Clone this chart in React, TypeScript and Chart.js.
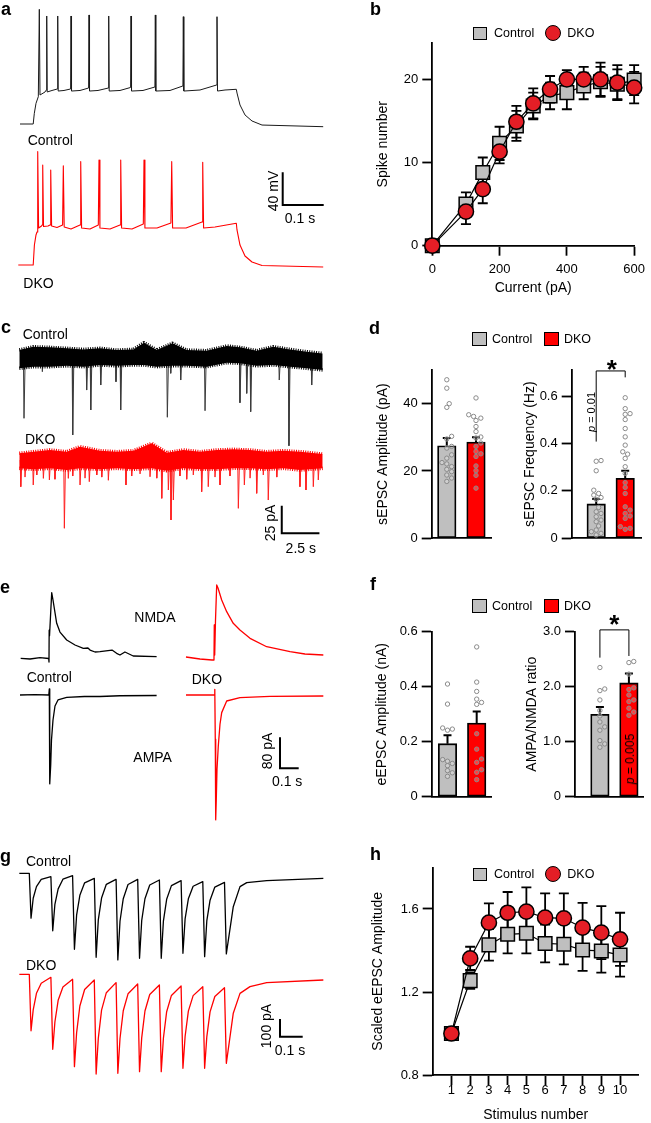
import React, { useEffect, useRef } from "react";
import { Chart, registerables } from "chart.js";

Chart.register(...registerables);

const FONT = '"Liberation Sans", Arial, Helvetica, sans-serif';
Chart.defaults.font.family = FONT;
Chart.defaults.color = "#000";

const RED = "#ff0000";
const MARK_RED = "#e41e26";
const GRAY = "#bfbfbf";
const DOT = "#8a8a8a";

// ---------------- Panel a (current-clamp traces, ms / mV) ----------------
const aControlT = [0, 33, 35.8, 40, 45.8, 48.3, 50, 62.5, 65.8, 66.8, 68, 80, 93.3, 94.3, 95.5, 110, 126.5, 127.5, 128.8, 150, 171.5, 172.5, 173.8, 195, 220.8, 221.8, 223, 250, 276.5, 277.5, 278.8, 307.5, 337.3, 338.3, 339.5, 375, 407.3, 408.3, 409.5, 450, 491.5, 492.5, 493.8, 512.5, 540.8, 542.5, 550, 562.5, 580, 605, 758];
const aControlV = [-70, -70, -56.5, -43.9, -35.5, 74.7, -33.4, -29.6, -27.1, 66.3, -29.6, -27.7, -25.8, 66.3, -28.4, -27.7, -25.8, 66.3, -28.4, -27.7, -24.6, 67.6, -28.4, -27.7, -24.6, 66.3, -28.4, -27.7, -23.9, 66.3, -28.4, -27.7, -23.3, 67.6, -28.4, -27.7, -22, 65.4, -28.4, -27.1, -20.8, 65.4, -28.4, -27.1, -26.2, -30.9, -46, -58.6, -66.2, -71.3, -73.4];
const aDkoT = [-4.3, 33, 36, 40, 42.5, 44.3, 46.5, 53.8, 55.3, 56.8, 58.8, 70, 75, 76.8, 79, 92.5, 106.5, 108.3, 110.5, 127.5, 150, 151.8, 154, 175, 195.8, 197.5, 199.8, 225, 250, 251.8, 254, 280, 308.3, 310, 312.3, 342.5, 377.3, 379.3, 381.5, 415, 455, 456.8, 459, 487.5, 540.8, 542.5, 550, 562.5, 580, 605, 758];
const aDkoV = [-70, -70, -44.8, -32.1, -28.4, 73, -23.3, -20.8, -19.5, 56.2, -21.4, -20.8, -19.5, 49.9, -20.8, -22.7, -19.5, 55.3, -22, -24.6, -19.5, 60.4, -23.3, -24.6, -19.5, 62.5, -23.3, -24.6, -19.5, 62.5, -23.3, -24.6, -18.3, 62.5, -23.3, -23.3, -17, 60.4, -23.3, -23.3, -15.7, 59.6, -23.3, -22, -17.4, -25.8, -44.8, -58.6, -66.2, -70.6, -72.5];

// ---------------- Panel b ----------------
const bCurrent = [0, 100, 150, 200, 250, 300, 350, 400, 450, 500, 550, 600];
const bControl = [0, 5.0, 8.8, 12.3, 14.4, 16.8, 18.0, 18.4, 19.2, 19.7, 19.4, 19.9];
const bControlSem = [0, 1.4, 1.8, 2.0, 1.8, 1.6, 1.6, 2.0, 1.6, 1.8, 1.8, 1.8];
const bDko = [0, 4.1, 6.8, 11.3, 14.9, 17.1, 18.8, 20.0, 20.0, 20.0, 19.6, 19.0];
const bDkoSem = [0, 1.5, 1.7, 1.4, 1.9, 1.8, 1.6, 1.1, 1.5, 2.0, 2.1, 1.9];
const bXTicks = [0, 200, 400, 600];
const bXLabels = ["0", "200", "400", "600"];
const bYTicks = [0, 10, 20];
const bYLabels = ["0", "10", "20"];

// ---------------- Panel c (sEPSC traces, s / pA) ----------------
const cCtrlBandT = [0, 0.95, 2.09, 3.23, 4.36, 5.5, 6.64, 7.77, 8.5, 9.37, 10.43, 11.41, 12.77, 14.14, 15.04, 16.18, 17.31, 18.45, 19.59, 20.68];
const cCtrlBandHi = [7, 10.1, 9.5, 8.6, 7.6, 8.6, 7, 7.6, 13.9, 7, 13.3, 7, 6.4, 10.8, 9.5, 6.4, 10.1, 7.6, 5.4, 3.8];
const cCtrlBandLo = [-10.1, -8.6, -8.6, -7.8, -8.6, -7, -7.8, -7, -7, -8.6, -7.8, -7.8, -8.6, -4.8, -5.4, -7.8, -7, -8.6, -10.1, -11.7];
const cCtrlEventT = [0.32, 1.57, 3.64, 4.59, 4.87, 5.55, 6.59, 6.91, 10.09, 10.32, 11.0, 12.66, 15.04, 15.5, 15.77, 17.72, 18.38, 19.93];
const cCtrlEventA = [-57, -13.3, -72.6, -30.5, -49.2, -25.8, -22.7, -49.2, -56, -14.8, -21.1, -49.9, -42.4, -33.6, -50.8, -21.1, -82.7, -25.8];
const cDkoBandT = [0, 0.95, 2.09, 3.23, 4.14, 5.5, 6.64, 7.77, 9.03, 10.05, 11.18, 12.32, 13.46, 14.59, 15.73, 16.86, 18.0, 19.13, 20.68];
const cDkoBandHi = [6.3, 7.8, 9.4, 7.8, 12.5, 8.7, 7.8, 8.7, 15.6, 6.9, 9.4, 7.8, 9.4, 10, 9.4, 7.8, 8.7, 7.8, 5.6];
const cDkoBandLo = [-7.8, -8.7, -7.8, -9.4, -7.8, -8.7, -7.8, -8.7, -7.8, -10, -7.8, -8.7, -8.7, -7.8, -7.8, -8.7, -7.8, -9.4, -7.8];
const cDkoEventT = [0.1, 0.39, 0.95, 1.19, 1.64, 2.05, 2.43, 3.07, 3.34, 3.64, 4.14, 4.48, 4.77, 5.28, 5.62, 6.07, 7.27, 7.66, 8.23, 8.91, 9.37, 9.71, 10.16, 10.34, 10.5, 10.95, 11.41, 11.86, 12.43, 12.88, 13.34, 13.68, 14.36, 14.93, 15.34, 15.73, 16.18, 16.63, 16.97, 17.55, 19.13, 19.54, 20.04, 20.38];
const cDkoEventA = [-25, -16, -23.4, -14, -17.2, -18.7, -18, -64, -17.2, -15, -23.4, -17, -20.3, -14, -16, -19, -23.4, -15, -13, -15.7, -17, -35.9, -28.1, -56.2, -37.5, -15, -18, -14, -29.7, -25, -16, -23.4, -15, -45.3, -23.4, -17, -31.2, -14, -37.5, -16, -25, -28.1, -25, -18.7];

// ---------------- Panel d ----------------
const dAmpMean = [27.5, 28.6];
const dAmpSem = [2.3, 1.4];
const dAmpCtrlDots = [47.1, 44.6, 40.0, 38.9, 30.3, 29.5, 27.3, 26.8, 24.8, 23.8, 22.5, 22.1, 21.3, 20.5, 19.8, 18.8, 17.9, 16.9];
const dAmpDkoDots = [41.7, 36.7, 36.2, 35.7, 35.0, 33.2, 31.7, 30.1, 29.8, 28.3, 27.3, 25.8, 25.1, 24.3, 21.5, 20.1, 18.7, 14.9];
const dAmpTicks = [0, 20, 40];
const dAmpLabels = ["0", "20", "40"];
const dFreqMean = [0.145, 0.253];
const dFreqSem = [0.021, 0.032];
const dFreqCtrlDots = [0.328, 0.325, 0.285, 0.203, 0.189, 0.182, 0.172, 0.164, 0.13, 0.112, 0.105, 0.091, 0.077, 0.07, 0.052, 0.035, 0.028, 0.021, 0.014];
const dFreqDkoDots = [0.593, 0.547, 0.526, 0.523, 0.501, 0.463, 0.428, 0.393, 0.365, 0.355, 0.337, 0.302, 0.274, 0.235, 0.215, 0.189, 0.133, 0.119, 0.105, 0.094, 0.084, 0.049, 0.042, 0.038];
const dFreqTicks = [0, 0.2, 0.4, 0.6];
const dFreqLabels = ["0", "0.2", "0.4", "0.6"];
const dFreqBracket = [0.408, 0.706, 0.679];

// ---------------- Panel e (evoked traces, ms / pA) ----------------
const eCtrlNmdaT = [-160, -107, -51, -1.7, 0, 1, 3, 15.3, 22.6, 43.5, 62, 100, 147, 194, 220, 232, 260, 288, 356, 382, 401, 429, 476, 608];
const eCtrlNmdaI = [0, -1.9, 2, -0.5, -10, 75, 60, 175, 155.5, 93.3, 70, 48.8, 35.5, 26.7, 27.5, 22, 16.8, 17.6, 22, 13.3, 8.8, 16.8, 6.1, 4.3];
const eCtrlAmpaT = [-164, -80, -1, 1.7, 2.8, 5.6, 9.6, 14.1, 22.6, 33.9, 50.8, 100, 200, 288, 400, 608];
const eCtrlAmpaI = [0, 1, 0, 16, -13, -237, -187, -120, -66.7, -29.3, -13.3, -6.1, -4, -4, -2, -1.3];
const eDkoNmdaT = [-160, -81, -13, -1.7, 0, 2.3, 6.8, 13.6, 20.9, 41.8, 70, 107, 145, 202, 296, 428, 512, 616];
const eDkoNmdaI = [3.5, -1.9, -4.5, -4.5, 88.8, 8.8, 102, 195.5, 187.5, 155.5, 124.3, 93.3, 75.5, 53.3, 30.9, 17.6, 11.5, 8.8];
const eDkoAmpaT = [-160, 1.1, 2.8, 5.6, 7.9, 11.3, 15.3, 22.6, 32.2, 41.8, 70, 145, 315, 616];
const eDkoAmpaI = [0, 0, 15.2, -118, -333, -278, -198, -136, -78, -47, -16, -6.9, -3.5, -2.7];

// ---------------- Panel f ----------------
const fAmpMean = [0.193, 0.268];
const fAmpSem = [0.031, 0.042];
const fAmpCtrlDots = [0.41, 0.337, 0.25, 0.246, 0.242, 0.135, 0.129, 0.121, 0.113, 0.095, 0.087, 0.074];
const fAmpDkoDots = [0.545, 0.417, 0.383, 0.355, 0.343, 0.336, 0.229, 0.173, 0.137, 0.125, 0.098, 0.089, 0.062];
const fAmpTicks = [0, 0.2, 0.4, 0.6];
const fAmpLabels = ["0", "0.2", "0.4", "0.6"];
const fRatioMean = [1.5, 2.07];
const fRatioSem = [0.13, 0.17];
const fRatioCtrlDots = [2.35, 1.96, 1.93, 1.76, 1.57, 1.47, 1.36, 1.27, 1.21, 1.02, 0.96, 0.9];
const fRatioDkoDots = [2.46, 2.44, 2.23, 1.98, 1.95, 1.85, 1.76, 1.73, 1.61, 1.54, 1.48];
const fRatioTicks = [0, 1, 2, 3];
const fRatioLabels = ["0", "1.0", "2.0", "3.0"];
const fRatioBracket = [2.53, 3.035, 2.56];

// ---------------- Panel g (train traces, ms / pA) ----------------
const gStimT = [0, 100, 200, 300, 400, 500, 600, 700, 800, 900];
const gTroughDelay = 8;
const gRecoveryDt = [18, 33, 55, 99.5];
const gCtrlTrough = [-269, -344, -455, -503, -519, -509, -509, -479, -499, -483];
const gCtrlPre = [0, -20, -14, -30, -36, -36, -40, -44, -50, -54];
const gCtrlRecovery = [0.52, 0.24, 0.064, 0];
const gCtrlTailT = [940, 971, 1002, 1094, 1355];
const gCtrlTailI = [-200, -80, -56, -44, -30];
const gDkoTrough = [-338, -449, -553, -597, -593, -583, -583, -563, -563, -533];
const gDkoPre = [0, -18, -30, -34, -50, -58, -64, -70, -74, -80];
const gDkoRecovery = [0.61, 0.3, 0.11, 0];
const gDkoTailT = [940, 971, 1017, 1094, 1355];
const gDkoTailI = [-233, -114, -74, -50, -34];

// ---------------- Panel h ----------------
const hStim = [1, 2, 3, 4, 5, 6, 7, 8, 9, 10];
const hControl = [1.0, 1.255, 1.427, 1.478, 1.483, 1.434, 1.43, 1.402, 1.398, 1.378];
const hControlSem = [0, 0.04, 0.076, 0.092, 0.097, 0.091, 0.097, 0.1, 0.105, 0.104];
const hDko = [1.0, 1.362, 1.534, 1.582, 1.587, 1.558, 1.555, 1.51, 1.486, 1.454];
const hDkoSem = [0, 0.056, 0.093, 0.1, 0.117, 0.117, 0.12, 0.12, 0.128, 0.128];
const hYTicks = [0.8, 1.2, 1.6];
const hYLabels = ["0.8", "1.2", "1.6"];
const hXLabels = hStim.map(String);

// ---------------- helpers ----------------
type Rect = { x: number; y: number; w: number; h: number };
type Area = { l: number; t: number; r: number; b: number };

const pts = (xs: number[], ys: number[]) => xs.map((x, i) => ({ x, y: ys[i] }));

function events(ts: number[], amps: number[]) {
  const out: any[] = [];
  ts.forEach((t, i) => {
    out.push({ x: t - 0.04, y: 0 }, { x: t, y: amps[i] }, { x: t + 0.08, y: 0 }, { x: t + 0.08, y: null });
  });
  return out;
}

function train(trough: number[], pre: number[], rec: number[], tailT: number[], tailI: number[]) {
  const out: any[] = [{ x: -46, y: 0 }];
  gStimT.forEach((s, i) => {
    out.push({ x: s, y: pre[i] });
    out.push({ x: s + gTroughDelay, y: trough[i] });
    if (i < gStimT.length - 1) {
      const next = pre[i + 1];
      gRecoveryDt.forEach((dt, k) => out.push({ x: s + dt, y: next + (trough[i] - next) * rec[k] }));
    } else {
      tailT.forEach((t, k) => out.push({ x: t, y: tailI[k] }));
    }
  });
  return out;
}

function swarm(values: number[], center: number, pxX: number, pxY: number, gap: number) {
  const order = values.map((_, i) => i).sort((a, b) => values[a] - values[b]);
  const placed: { x: number; y: number }[] = [];
  const out: any[] = new Array(values.length);
  for (const i of order) {
    const py = values[i] * pxY;
    let k = 0;
    let px = 0;
    for (;;) {
      px = k === 0 ? 0 : (k % 2 ? 1 : -1) * Math.ceil(k / 2) * gap * 0.55;
      const ok = placed.every((p) => Math.hypot(p.x - px, p.y - py) >= gap);
      if (ok || k > 12) break;
      k++;
    }
    placed.push({ x: px, y: py });
    out[i] = { x: center + px / pxX, y: values[i] };
  }
  return out;
}

const base = (extra: any) => ({
  responsive: false,
  animation: false,
  devicePixelRatio: 1,
  events: [],
  plugins: { legend: { display: false }, tooltip: { enabled: false } },
  ...extra,
});

const hidden = (min: number, max: number) => ({ type: "linear", display: false, min, max });

function scaleBar(xId: string, yId: string, x0: number, dx: number, y0: number, dy: number) {
  return {
    id: "scaleBar",
    afterDatasetsDraw(chart: any) {
      const xs = chart.scales[xId];
      const ys = chart.scales[yId];
      const ctx = chart.ctx;
      const px0 = xs.getPixelForValue(x0);
      const px1 = xs.getPixelForValue(x0 + dx);
      const py0 = ys.getPixelForValue(y0);
      const py1 = ys.getPixelForValue(y0 + dy);
      ctx.save();
      ctx.strokeStyle = "#000";
      ctx.lineWidth = 2;
      ctx.lineCap = "square";
      ctx.beginPath();
      ctx.moveTo(px0, py1);
      ctx.lineTo(px0, py0);
      ctx.lineTo(px1, py0);
      ctx.stroke();
      ctx.restore();
    },
  };
}

function drawErrors(chart: any, both: boolean, capHalf: number, width: number) {
  const ctx = chart.ctx;
  chart.data.datasets.forEach((ds: any, di: number) => {
    if (!ds.errors) return;
    const meta = chart.getDatasetMeta(di);
    const xs = chart.scales[meta.xAxisID];
    const ys = chart.scales[meta.yAxisID];
    ctx.save();
    ctx.strokeStyle = "#000";
    ctx.lineWidth = width;
    ds.data.forEach((p: any, i: number) => {
      const e = ds.errors[i];
      if (!e) return;
      const px = xs.getPixelForValue(p.x);
      const top = ys.getPixelForValue(p.y + e);
      const bot = ys.getPixelForValue(both ? p.y - e : p.y);
      ctx.beginPath();
      ctx.moveTo(px, bot);
      ctx.lineTo(px, top);
      ctx.moveTo(px - capHalf, top);
      ctx.lineTo(px + capHalf, top);
      if (both) {
        ctx.moveTo(px - capHalf, bot);
        ctx.lineTo(px + capHalf, bot);
      }
      ctx.stroke();
    });
    ctx.restore();
  });
}

function bracketPlugin(ys3: number[]) {
  return {
    id: "bracket",
    afterDatasetsDraw(chart: any) {
      const xs = chart.scales.x;
      const ys = chart.scales.y;
      const ctx = chart.ctx;
      ctx.save();
      ctx.strokeStyle = "#000";
      ctx.lineWidth = 1;
      ctx.beginPath();
      ctx.moveTo(xs.getPixelForValue(0), ys.getPixelForValue(ys3[0]));
      ctx.lineTo(xs.getPixelForValue(0), ys.getPixelForValue(ys3[1]));
      ctx.lineTo(xs.getPixelForValue(1), ys.getPixelForValue(ys3[1]));
      ctx.lineTo(xs.getPixelForValue(1), ys.getPixelForValue(ys3[2]));
      ctx.stroke();
      ctx.restore();
    },
  };
}

const gridOpts = { display: true, drawOnChartArea: false, drawTicks: true, tickLength: 10, tickWidth: 1.8, tickColor: "#000" };
const borderOpts = { display: true, color: "#000", width: 1.8 };

function yAxis(min: number, max: number, ticks: number[], labels: string[], title: string, width: number, titleCenter: number) {
  return {
    type: "linear",
    position: "left",
    min,
    max,
    afterBuildTicks: (s: any) => {
      s.ticks = ticks.map((v) => ({ value: v }));
    },
    afterFit: (s: any) => {
      s.width = width;
    },
    ticks: { callback: (_v: any, i: number) => labels[i], font: { size: 13 }, padding: 4, autoSkip: false, maxRotation: 0, color: "#000" },
    grid: gridOpts,
    border: borderOpts,
    title: { display: true, text: title, color: "#000", font: { size: 14 }, padding: { top: titleCenter - 8.4, bottom: 0 } },
  };
}

function layoutFor(rect: Rect, area: Area) {
  return { padding: { left: 0, top: area.t - rect.y, right: rect.x + rect.w - area.r, bottom: 0 } };
}

function xyConfig(o: any) {
  const rect: Rect = o.rect;
  const area: Area = o.area;
  return () => ({
    type: "line",
    data: {
      datasets: [
        {
          label: "DKO",
          data: pts(o.x, o.dko),
          errors: o.dkoSem,
          order: 0,
          borderColor: "#000",
          borderWidth: 1.2,
          pointStyle: "circle",
          pointRadius: 7.6,
          pointBackgroundColor: MARK_RED,
          pointBorderColor: "#000",
          pointBorderWidth: 1.5,
          clip: false,
        },
        {
          label: "Control",
          data: pts(o.x, o.ctrl),
          errors: o.ctrlSem,
          order: 1,
          borderColor: "#000",
          borderWidth: 1.2,
          pointStyle: "rect",
          pointRadius: 9.6,
          pointBackgroundColor: GRAY,
          pointBorderColor: "#000",
          pointBorderWidth: 1.5,
          clip: false,
        },
      ],
    },
    options: base({
      layout: layoutFor(rect, area),
      elements: { line: { tension: 0 } },
      scales: {
        x: {
          type: "linear",
          min: o.xMin,
          max: o.xMax,
          afterBuildTicks: (s: any) => {
            s.ticks = o.xTicks.map((v: number) => ({ value: v }));
          },
          afterFit: (s: any) => {
            s.height = rect.y + rect.h - area.b;
          },
          ticks: { callback: (_v: any, i: number) => o.xLabels[i], font: { size: 13 }, padding: o.xTickPad, autoSkip: false, maxRotation: 0, color: "#000" },
          grid: gridOpts,
          border: borderOpts,
          title: { display: true, text: o.xTitle, color: "#000", font: { size: 14 }, padding: { top: 0, bottom: o.xTitlePad } },
        },
        y: yAxis(o.yMin, o.yMax, o.yTicks, o.yLabels, o.yTitle, area.l - rect.x, o.yTitleCenter - rect.x),
      },
    }),
    plugins: [{ id: "errs", beforeDatasetsDraw: (chart: any) => drawErrors(chart, true, 5, 1.8) }],
  });
}

function barConfig(o: any) {
  const rect: Rect = o.rect;
  const area: Area = o.area;
  const pxX = (area.r - area.l) / (o.xMax - o.xMin);
  const pxY = (area.b - area.t) / (o.yMax - o.yMin);
  const dots = swarm(o.ctrlDots, 0, pxX, pxY, 4.4).concat(swarm(o.dkoDots, 1, pxX, pxY, 4.4));
  const plugins: any[] = [
    {
      id: "errs",
      afterDatasetDraw: (chart: any, args: any) => {
        if (chart.data.datasets[args.index].errors) drawErrors(chart, false, 4, 2);
      },
    },
  ];
  if (o.bracket) plugins.push(bracketPlugin(o.bracket));
  return () => ({
    type: "bar",
    data: {
      datasets: [
        {
          type: "bar",
          data: pts([0, 1], o.means),
          errors: o.sems,
          order: 1,
          backgroundColor: [GRAY, RED],
          borderColor: "#000",
          borderWidth: 1.8,
          borderSkipped: false,
          barThickness: 18.5,
        },
        {
          type: "scatter",
          data: dots,
          order: 0,
          pointRadius: 2.2,
          pointBorderWidth: 1,
          pointBorderColor: DOT,
          pointBackgroundColor: "rgba(255,255,255,0.25)",
          clip: false,
        },
      ],
    },
    options: base({
      layout: layoutFor(rect, area),
      scales: {
        x: {
          type: "linear",
          min: o.xMin,
          max: o.xMax,
          offset: false,
          afterFit: (s: any) => {
            s.height = rect.y + rect.h - area.b;
          },
          ticks: { display: false },
          grid: { display: false, offset: false },
          border: borderOpts,
        },
        y: yAxis(o.yMin, o.yMax, o.ticks, o.labels, o.title, area.l - rect.x, o.titleCenter - rect.x),
      },
    }),
    plugins,
  });
}

function traceConfig(datasets: any[], scales: any, bar: any) {
  return () => ({
    type: "line",
    data: { datasets },
    options: base({
      layout: { padding: 0 },
      scales,
      elements: { point: { radius: 0 }, line: { tension: 0, borderJoinStyle: "round", capBezierPoints: false } },
    }),
    plugins: [bar],
  });
}

const line = (data: any[], color: string, width: number, xId = "x", yId = "y", extra: any = {}) => ({
  data,
  borderColor: color,
  borderWidth: width,
  xAxisID: xId,
  yAxisID: yId,
  fill: false,
  pointRadius: 0,
  spanGaps: false,
  ...extra,
});

// fuzzy noise-band edge: a short-dash thick stroke along the band envelope
const bandEdge = { borderWidth: 3.5, borderDash: [1, 1.3] };

// ---------------- chart definitions ----------------
const rectA: Rect = { x: 0, y: 0, w: 340, h: 290 };
const cfgA = traceConfig(
  [line(pts(aControlT, aControlV), "#1a1a1a", 1, "x", "y"), line(pts(aDkoT, aDkoV), RED, 1.1, "x", "y2")],
  { x: hidden(-50, 800), y: hidden(-279.46, 86.47), y2: hidden(-101.55, 264.38) },
  scaleBar("x", "y2", 656.75, 100, 5.71, 40)
);

const rectC: Rect = { x: 0, y: 300, w: 340, h: 260 };
const cfgC = traceConfig(
  [
    line(pts(cCtrlBandT, cCtrlBandHi), "#000", 1, "x", "y", { fill: "+1", backgroundColor: "#000", ...bandEdge }),
    line(pts(cCtrlBandT, cCtrlBandLo), "#000", 1, "x", "y", bandEdge),
    line(events(cCtrlEventT, cCtrlEventA), "#3c3c3c", 1, "x", "y"),
    line(pts(cDkoBandT, cDkoBandHi), RED, 1, "x", "y2", { fill: "+1", backgroundColor: RED, ...bandEdge }),
    line(pts(cDkoBandT, cDkoBandLo), RED, 1, "x", "y2", bandEdge),
    line(events(cDkoEventT, cDkoEventA), "#ff2020", 1, "x", "y2"),
  ],
  { x: hidden(-1.316, 21.86), y: hidden(-189.8, 53.9), y2: hidden(-93.7, 149.95) },
  scaleBar("x", "y2", 17.89, 2.5, -68.7, 25)
);

const rectE: Rect = { x: 0, y: 580, w: 340, h: 260 };
const cfgE = traceConfig(
  [
    line(pts(eCtrlNmdaT, eCtrlNmdaI), "#000", 1.3, "x", "y"),
    line(pts(eCtrlAmpaT, eCtrlAmpaI), "#000", 1.3, "x", "y2"),
    line(pts(eDkoNmdaT, eDkoNmdaI), RED, 1.3, "x2", "y"),
    line(pts(eDkoAmpaT, eDkoAmpaI), RED, 1.3, "x2", "y2"),
  ],
  { x: hidden(-276.8, 1644), x2: hidden(-1210.7, 710.2), y: hidden(-484.5, 208.8), y2: hidden(-386.7, 306.7) },
  scaleBar("x2", "y2", 371.2, 100, -195.5, 80)
);

const rectG: Rect = { x: 0, y: 840, w: 340, h: 283 };
const cfgG = traceConfig(
  [
    line(train(gCtrlTrough, gCtrlPre, gCtrlRecovery, gCtrlTailT, gCtrlTailI), "#000", 1.3, "x", "y"),
    line(train(gDkoTrough, gDkoPre, gDkoRecovery, gDkoTailT, gDkoTailI), RED, 1.3, "x", "y2"),
  ],
  { x: hidden(-135, 1431.8), y: hidden(-1495.2, 199.4), y2: hidden(-890.4, 804.2) },
  scaleBar("x", "y2", 1155.3, 100, -373.7, 100)
);

const rectB: Rect = { x: 370, y: 0, w: 281, h: 300 };
const cfgB = xyConfig({
  rect: rectB,
  area: { l: 432.3, t: 42.7, r: 639, b: 245.7 },
  x: bCurrent,
  ctrl: bControl,
  ctrlSem: bControlSem,
  dko: bDko,
  dkoSem: bDkoSem,
  xMin: 0,
  xMax: 600,
  xTicks: bXTicks,
  xLabels: bXLabels,
  xTickPad: 6,
  xTitle: "Current (pA)",
  xTitlePad: 3,
  yMin: 0,
  yMax: 24.4,
  yTicks: bYTicks,
  yLabels: bYLabels,
  yTitle: "Spike number",
  yTitleCenter: 383,
});

const rectH: Rect = { x: 370, y: 855, w: 281, h: 268 };
const cfgH = xyConfig({
  rect: rectH,
  area: { l: 432.7, t: 867.5, r: 638.8, b: 1075 },
  x: hStim,
  ctrl: hControl,
  ctrlSem: hControlSem,
  dko: hDko,
  dkoSem: hDkoSem,
  xMin: 0,
  xMax: 11,
  xTicks: hStim,
  xLabels: hXLabels,
  xTickPad: -2,
  xTitle: "Stimulus number",
  xTitlePad: -1,
  yMin: 0.8,
  yMax: 1.8,
  yTicks: hYTicks,
  yLabels: hYLabels,
  yTitle: "Scaled eEPSC Amplitude",
  yTitleCenter: 378.5,
});

const rectD1: Rect = { x: 360, y: 345, w: 140, h: 210 };
const cfgD1 = barConfig({
  rect: rectD1,
  area: { l: 431.7, t: 370, r: 491.7, b: 538.3 },
  xMin: -0.517,
  xMax: 1.538,
  yMin: 0,
  yMax: 50,
  ticks: dAmpTicks,
  labels: dAmpLabels,
  title: "sEPSC Amplitude (pA)",
  titleCenter: 383,
  means: dAmpMean,
  sems: dAmpSem,
  ctrlDots: dAmpCtrlDots,
  dkoDots: dAmpDkoDots,
});

const rectD2: Rect = { x: 505, y: 345, w: 146, h: 210 };
const cfgD2 = barConfig({
  rect: rectD2,
  area: { l: 571.7, t: 370, r: 641.7, b: 538.3 },
  xMin: -0.845,
  xMax: 1.569,
  yMin: 0,
  yMax: 0.71,
  ticks: dFreqTicks,
  labels: dFreqLabels,
  title: "sEPSC Frequency (Hz)",
  titleCenter: 530,
  means: dFreqMean,
  sems: dFreqSem,
  ctrlDots: dFreqCtrlDots,
  dkoDots: dFreqDkoDots,
  bracket: dFreqBracket,
});

const rectF1: Rect = { x: 360, y: 620, w: 140, h: 190 };
const cfgF1 = barConfig({
  rect: rectF1,
  area: { l: 431.7, t: 628.7, r: 491.7, b: 796.7 },
  xMin: -0.541,
  xMax: 1.514,
  yMin: 0,
  yMax: 0.6,
  ticks: fAmpTicks,
  labels: fAmpLabels,
  title: "eEPSC Amplitude (nA)",
  titleCenter: 381.7,
  means: fAmpMean,
  sems: fAmpSem,
  ctrlDots: fAmpCtrlDots,
  dkoDots: fAmpDkoDots,
});

const rectF2: Rect = { x: 505, y: 620, w: 146, h: 190 };
const cfgF2 = barConfig({
  rect: rectF2,
  area: { l: 575, t: 628.7, r: 643, b: 796.7 },
  xMin: -0.859,
  xMax: 1.486,
  yMin: 0,
  yMax: 3,
  ticks: fRatioTicks,
  labels: fRatioLabels,
  title: "AMPA/NMDA ratio",
  titleCenter: 531.7,
  means: fRatioMean,
  sems: fRatioSem,
  ctrlDots: fRatioCtrlDots,
  dkoDots: fRatioDkoDots,
  bracket: fRatioBracket,
});

// ---------------- React components ----------------
function ChartCanvas({ rect, make }: { rect: Rect; make: () => any }) {
  const ref = useRef<HTMLCanvasElement | null>(null);
  useEffect(() => {
    const chart = new Chart(ref.current as HTMLCanvasElement, make());
    return () => chart.destroy();
  }, []);
  return (
    <canvas
      ref={ref}
      width={rect.w}
      height={rect.h}
      style={{ position: "absolute", left: rect.x, top: rect.y, width: rect.w, height: rect.h, display: "block" }}
    />
  );
}

function T({ x, y, s = 14, a = "l", rot = false, b = false, children }: any) {
  let tr = "translate(0,-50%)";
  if (a === "c") tr = "translate(-50%,-50%)";
  if (a === "tl") tr = "none";
  if (rot) tr = "translate(-50%,-50%) rotate(-90deg)";
  return (
    <div
      style={{
        position: "absolute",
        left: x,
        top: y,
        transform: tr,
        fontFamily: FONT,
        fontSize: s,
        lineHeight: 1,
        whiteSpace: "nowrap",
        fontWeight: b ? "bold" : "normal",
        color: "#000",
      }}
    >
      {children}
    </div>
  );
}

function Sq({ x, y, w, h, c }: any) {
  return (
    <div
      style={{ position: "absolute", left: x, top: y, width: w, height: h, background: c, border: "1.5px solid #000", boxSizing: "border-box" }}
    />
  );
}

function Dot({ cx, cy, d, c }: any) {
  return (
    <div
      style={{
        position: "absolute",
        left: cx - d / 2,
        top: cy - d / 2,
        width: d,
        height: d,
        borderRadius: "50%",
        background: c,
        border: "1.5px solid #000",
        boxSizing: "border-box",
      }}
    />
  );
}

function MarkerLegend({ y }: { y: number }) {
  return (
    <>
      <Sq x={473} y={y - 6.8} w={13.6} h={13.6} c={GRAY} />
      <T x={494} y={y} s={12.5}>Control</T>
      <Dot cx={552.5} cy={y} d={16} c={MARK_RED} />
      <T x={567.3} y={y} s={12.5}>DKO</T>
    </>
  );
}

function BarLegend({ y }: { y: number }) {
  return (
    <>
      <Sq x={472} y={y - 7} w={14.5} h={14} c={GRAY} />
      <T x={492} y={y} s={12.5}>Control</T>
      <Sq x={543.8} y={y - 7} w={15} h={14} c={RED} />
      <T x={564} y={y} s={12.5}>DKO</T>
    </>
  );
}

export default function App() {
  return (
    <div style={{ position: "absolute", left: 0, top: 0, width: 651, height: 1123, overflow: "hidden", background: "#fff" }}>
      <ChartCanvas rect={rectA} make={cfgA} />
      <ChartCanvas rect={rectB} make={cfgB} />
      <ChartCanvas rect={rectC} make={cfgC} />
      <ChartCanvas rect={rectD1} make={cfgD1} />
      <ChartCanvas rect={rectD2} make={cfgD2} />
      <ChartCanvas rect={rectE} make={cfgE} />
      <ChartCanvas rect={rectF1} make={cfgF1} />
      <ChartCanvas rect={rectF2} make={cfgF2} />
      <ChartCanvas rect={rectG} make={cfgG} />
      <ChartCanvas rect={rectH} make={cfgH} />

      {/* panel letters */}
      <T x={1} y={0} s={18} a="tl" b>a</T>
      <T x={370} y={0} s={18} a="tl" b>b</T>
      <T x={1} y={318} s={18} a="tl" b>c</T>
      <T x={369} y={319} s={18} a="tl" b>d</T>
      <T x={0} y={577.5} s={18} a="tl" b>e</T>
      <T x={370} y={575} s={18} a="tl" b>f</T>
      <T x={0} y={847} s={18} a="tl" b>g</T>
      <T x={370} y={845} s={18} a="tl" b>h</T>

      {/* panel a labels */}
      <T x={27.7} y={140}>Control</T>
      <T x={23.3} y={282.7}>DKO</T>
      <T x={272.8} y={190.8} rot>40 mV</T>
      <T x={300} y={218.3} a="c">0.1 s</T>

      {/* panel c labels */}
      <T x={22.7} y={333.8}>Control</T>
      <T x={25} y={438.7}>DKO</T>
      <T x={270} y={522.5} rot>25 pA</T>
      <T x={300.8} y={547.5} a="c">2.5 s</T>

      {/* panel e labels */}
      <T x={134.3} y={617.2}>NMDA</T>
      <T x={26.7} y={677.2}>Control</T>
      <T x={191.7} y={678.7}>DKO</T>
      <T x={133.3} y={757.2}>AMPA</T>
      <T x={267.2} y={750.8} rot>80 pA</T>
      <T x={287.2} y={781} a="c">0.1 s</T>

      {/* panel g labels */}
      <T x={26} y={861.3}>Control</T>
      <T x={26} y={964.7}>DKO</T>
      <T x={266.3} y={1025.8} rot>100 pA</T>
      <T x={290} y={1049.5} a="c">0.1 s</T>

      {/* legends */}
      <MarkerLegend y={33.3} />
      <BarLegend y={339} />
      <BarLegend y={606.3} />
      <MarkerLegend y={874.3} />

      {/* significance */}
      <T x={611.7} y={369} s={26} a="c" b>*</T>
      <T x={590.8} y={412} s={11} rot>
        <i>p</i> = 0.01
      </T>
      <T x={614.3} y={623.5} s={26} a="c" b>*</T>
      <T x={630} y={759.2} s={12} rot>
        <i>p</i> = 0.005
      </T>
    </div>
  );
}
